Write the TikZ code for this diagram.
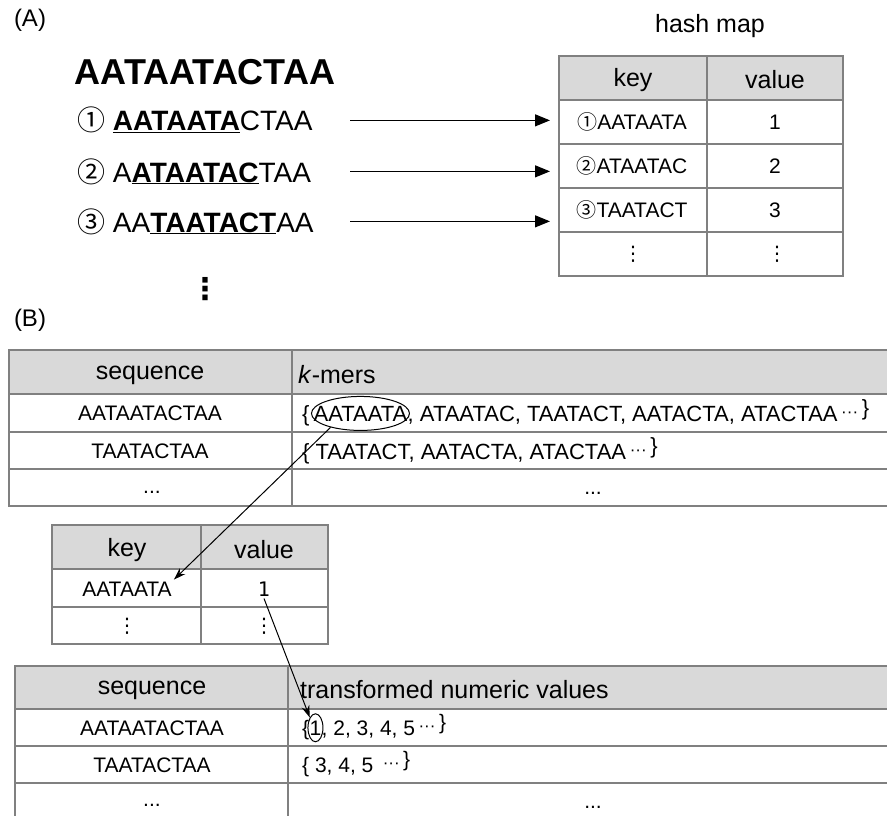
\documentclass[tikz,border=0pt]{standalone}
\usepackage{fontspec}
\setmainfont{Liberation Sans}
\newfontfamily\circfont{Noto Sans CJK SC}
\newfontfamily\dotfont{DejaVu Sans}
\newfontfamily\monofont{DejaVu Sans Mono}
\usetikzlibrary{arrows.meta, positioning, shapes.geometric}
\definecolor{gridgray}{HTML}{808080}
\definecolor{headgray}{HTML}{D9D9D9}
\newcommand{\setfs}[1]{\fontsize{#1}{#1}\selectfont}
\newcommand{\tailmark}{\,\raisebox{4pt}{\setfs{17}···}\,\raisebox{6pt}{\}}}

\begin{document}
\begin{tikzpicture}[
    x=1pt, y=-1pt,
    every node/.style={inner sep=2pt},
    lbl/.style={font=\setfs{24}},
    seqrow/.style={font=\setfs{28}, anchor=base west},
    hdr/.style={font=\setfs{25}},
    cell/.style={font=\setfs{21}},
    vdot/.style={font=\dotfont\setfs{20}},
    row/.style={font=\setfs{21}, anchor=base west, inner sep=0pt},
    grid/.style={draw=gridgray, line width=1.5pt},
    maparrow/.style={-{Triangle[length=15pt,width=12pt]}, line width=1.2pt},
    link/.style={-{Stealth[length=12pt,width=8pt]}, line width=1pt},
    ring/.style={ellipse, draw, line width=1pt, inner sep=0pt}
]
    \clip (0,0) rectangle (887,816);

    % (A) sequence and its k-mers
    \node[lbl] (labA) at (30,20) {(A)};
    \node[font=\setfs{36}\bfseries] (seq) at (205,72) {AATAATACTAA};
    \node[seqrow] (row1) at (75,131) {{\circfont ①} \underline{\textbf{AATAATA}}CTAA};
    \node[seqrow] (row2) at (75,182) {{\circfont ②} A\underline{\textbf{ATAATAC}}TAA};
    \node[seqrow] (row3) at (75,232) {{\circfont ③} AA\underline{\textbf{TAATACT}}AA};
    \node[font=\dotfont\bfseries\setfs{30}] (more) at (205,289) {⋮};

    % hash map
    \fill[headgray] (559,56) rectangle (843,100);
    \draw[grid] (559,56) rectangle (843,276);
    \foreach \y in {100,144,188,232}
        \draw[grid] (559,\y) -- (843,\y);
    \draw[grid] (707,56) -- (707,276);
    \node[hdr] (hmtitle) at (710,26) {hash map};
    \node[hdr] (hkey) at (633,80) {key};
    \node[hdr] (hval) at (775,80) {value};
    \node[cell] (hk1) at (632,122) {{\circfont\setfs{20}①}AATAATA};
    \node[cell] (hk2) at (632,166) {{\circfont\setfs{20}②}ATAATAC};
    \node[cell] (hk3) at (632,210) {{\circfont\setfs{20}③}TAATACT};
    \node[vdot] (hk4) at (633,254) {⋮};
    \node[cell] (hv1) at (775,122) {1};
    \node[cell] (hv2) at (775,166) {2};
    \node[cell] (hv3) at (775,210) {3};
    \node[vdot] (hv4) at (777,254) {⋮};
    \coordinate (hout) at (350,0);
    \coordinate (hin) at (550,0);

    % Arrows
    \draw[maparrow] (row1.east -| hout) -- (row1.east -| hin);
    \draw[maparrow] (row2.east -| hout) -- (row2.east -| hin);
    \draw[maparrow] (row3.east -| hout) -- (row3.east -| hin);

    % (B) k-mer table
    \node[lbl] (labB) at (30,320) {(B)};
    \fill[headgray] (9,350) rectangle (900,394);
    \draw[grid] (900,350) -- (9,350) -- (9,506) -- (900,506);
    \foreach \y in {394,432,469}
        \draw[grid] (9,\y) -- (900,\y);
    \draw[grid] (292,350) -- (292,506);
    \node[hdr] (t1h1) at (150,375) {sequence};
    \node[hdr, anchor=west] (t1h2) at (296,375) {\textit{k}-mers};
    \node[cell] (t1s1) at (150,413) {AATAATACTAA};
    \node[cell] (t1s2) at (150,451) {TAATACTAA};
    \node[cell] (t1s3) at (152,492) {...};
    \node[row, font=\setfs{22}] (kbr) at (302,421) {\{\,};
    \node[row, font=\setfs{22}] (kmerA) at (kbr.base east) {AATAATA};
    \node[row, font=\setfs{22}] (krest) at (kmerA.base east) {, ATAATAC, TAATACT, AATACTA, ATACTAA\tailmark};
    \node[ring, minimum width=98pt, minimum height=34pt] (kcirc) at (kmerA) {};
    \node[row, font=\setfs{22}] (krow2) at (302,459) {\{ TAATACT, AATACTA, ATACTAA\tailmark};
    \node[cell] (kdots) at (593,493) {...};

    % key / value lookup
    \fill[headgray] (52,525) rectangle (328,569);
    \draw[grid] (52,525) rectangle (328,644);
    \foreach \y in {569,607}
        \draw[grid] (52,\y) -- (328,\y);
    \draw[grid] (201,525) -- (201,644);
    \node[hdr] (kkey) at (127,550) {key};
    \node[hdr] (kval) at (264,550) {value};
    \node[cell] (keyA) at (127,589) {AATAATA};
    \node[cell, font=\monofont\setfs{20}] (val1) at (264,589) {1};
    \node[vdot] (kmore) at (127,626) {⋮};
    \node[vdot] (vmore) at (264,626) {⋮};

    % numeric table
    \fill[headgray] (15,666) rectangle (900,709);
    \draw[grid] (900,666) -- (15,666) -- (15,830);
    \foreach \y in {709,746,783}
        \draw[grid] (15,\y) -- (900,\y);
    \draw[grid] (288,666) -- (288,830);
    \node[hdr] (t2h1) at (152,690) {sequence};
    \node[hdr, anchor=west] (t2h2) at (298,690) {transformed numeric values};
    \node[cell] (t2s1) at (152,728) {AATAATACTAA};
    \node[cell] (t2s2) at (152,765) {TAATACTAA};
    \node[cell] (t2s3) at (152,805) {...};
    \node[row] (nbr) at (302,735) {\{};
    \node[row] (numA) at (nbr.base east) {1};
    \node[row] (nrest) at (numA.base east) {, 2, 3, 4, 5\tailmark};
    \node[ring, minimum width=15pt, minimum height=28pt] (vcirc) at (numA) {};
    \node[row] (nrow2) at (302,772) {\{ 3, 4, 5 \tailmark};
    \node[cell] (ndots) at (593,807) {...};

    % lookups
    \draw[link] (kcirc.205) -- (keyA.north east);
    \draw[link] (val1.south) -- (vcirc.north west);
\end{tikzpicture}
\end{document}
